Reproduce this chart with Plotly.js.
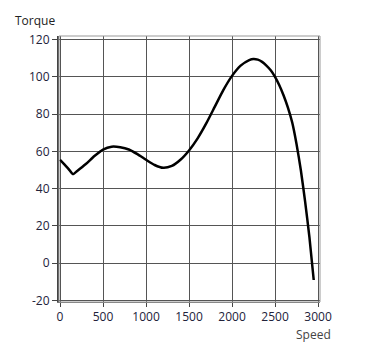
<!DOCTYPE html>
<html>
<head>
<meta charset="utf-8">
<script src="https://cdn.plot.ly/plotly-3.0.1.min.js"></script>
<style>html,body{margin:0;padding:0;background:#fff;}#chart{width:382px;height:354px;}</style>
</head>
<body>
<div id="chart"></div>
<script>
const speed = [0, 50, 100, 150, 200, 300, 400, 500, 600, 700, 800, 900, 1000, 1100, 1200, 1300, 1400, 1500, 1600, 1700, 1800, 1900, 2000, 2100, 2200, 2250, 2300, 2350, 2400, 2450, 2500, 2550, 2600, 2650, 2700, 2750, 2800, 2850, 2900, 2950];
const torque = [55.5, 53, 50.5, 47.8, 49.5, 53.2, 57.5, 61, 62.5, 62.2, 61, 58.5, 55.5, 52.7, 51.2, 52.2, 55.5, 60.5, 67, 75, 84, 93, 100.5, 106, 109, 109.6, 109.2, 108, 106, 103.5, 100, 95.5, 90, 83.5, 75.5, 64, 50, 33, 14, -9];
const xTicks = [0, 500, 1000, 1500, 2000, 2500, 3000];
const yTicks = [-20, 0, 20, 40, 60, 80, 100, 120];
const xLabel = 'Speed';
const yLabel = 'Torque';

const tickFont = {family: 'Open Sans, DejaVu Sans, sans-serif', size: 12, color: '#22223a'};

const trace = {
  x: speed, y: torque, type: 'scatter', mode: 'lines',
  line: {color: '#000', width: 2.5, shape: 'spline', smoothing: 0.6},
  hoverinfo: 'skip'
};

const layout = {
  width: 382, height: 354,
  margin: {l: 59, r: 62, t: 36, b: 52},
  paper_bgcolor: '#fff', plot_bgcolor: '#fff',
  showlegend: false,
  xaxis: {
    range: [-12, 3023], tickvals: xTicks, ticktext: xTicks.map(String),
    showgrid: true, gridcolor: '#555', gridwidth: 1,
    zeroline: false, showline: true, linecolor: '#777', linewidth: 1,
    ticks: 'outside', ticklen: 4, tickcolor: '#444',
    tickfont: tickFont
  },
  yaxis: {
    range: [-20.8, 121.9], tickvals: yTicks, ticktext: yTicks.map(String),
    showgrid: true, gridcolor: '#555', gridwidth: 1,
    zeroline: false, showline: true, linecolor: '#444', linewidth: 2,
    ticks: 'outside', ticklen: 5, tickcolor: '#444',
    tickfont: tickFont
  },
  shapes: [
    {type: 'rect', xref: 'paper', yref: 'paper', x0: 0, x1: 1, y0: 0, y1: 1,
     line: {color: '#999', width: 1}, layer: 'above'}
  ],
  annotations: [
    {text: yLabel, xref: 'paper', yref: 'paper', x: -0.092, y: 1.0575,
     xanchor: 'center', yanchor: 'middle', showarrow: false,
     font: {family: 'Open Sans, DejaVu Sans, sans-serif', size: 12, color: '#222'}},
    {text: xLabel, xref: 'paper', yref: 'paper', x: 0.975, y: -0.124,
     xanchor: 'center', yanchor: 'middle', showarrow: false,
     font: {family: 'Open Sans, DejaVu Sans, sans-serif', size: 12, color: '#444'}}
  ]
};

Plotly.newPlot('chart', [trace], layout, {staticPlot: true, displayModeBar: false});
</script>
</body>
</html>
